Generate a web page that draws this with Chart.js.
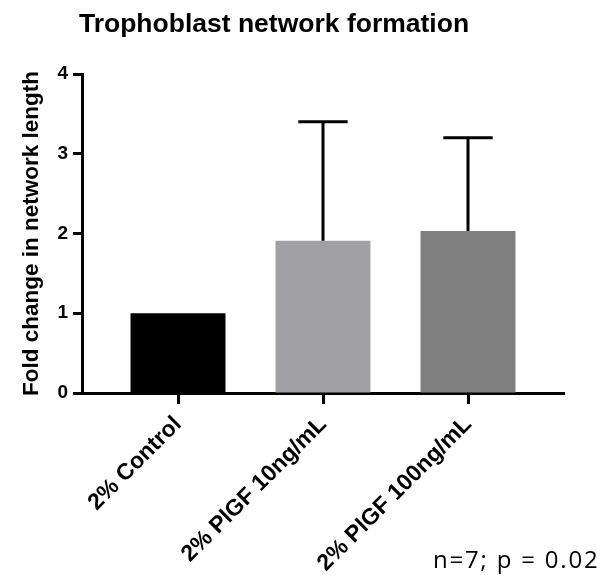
<!DOCTYPE html>
<html>
<head>
<meta charset="utf-8">
<script src="https://cdn.jsdelivr.net/npm/chart.js@4.4.1/dist/chart.umd.min.js"></script>
<style>
  html, body { margin: 0; padding: 0; background: #fff; }
  #wrap { width: 612px; height: 575px; }
</style>
</head>
<body>
<div id="wrap"><canvas id="c" width="612" height="575"></canvas></div>
<script>
const categories = ['2% Control', '2% PlGF 10ng/mL', '2% PlGF 100ng/mL'];
const meanValues = [1.0, 1.91, 2.03];
const errorUpper = [0, 1.49, 1.17];
const barColors = ['#000000', '#a1a1a5', '#808080'];
const yTicks = [0, 1, 2, 3, 4];
const titleText = 'Trophoblast network formation';
const yAxisTitle = 'Fold change in network length';
const noteText = 'n=7; p = 0.02';

const FONT = "'Liberation Sans', Arial, Helvetica, sans-serif";

const errorBarPlugin = {
  id: 'errorBars',
  afterDatasetsDraw(chart) {
    const ctx = chart.ctx;
    const meta = chart.getDatasetMeta(0);
    const y = chart.scales.y;
    ctx.save();
    ctx.strokeStyle = '#000';
    ctx.lineWidth = 3;
    ctx.lineCap = 'butt';
    meta.data.forEach((bar, i) => {
      if (!errorUpper[i]) return;
      const x = bar.x;
      const yTop = y.getPixelForValue(meanValues[i]);
      const yErr = y.getPixelForValue(meanValues[i] + errorUpper[i]);
      const half = bar.width * 0.26;
      ctx.beginPath();
      ctx.moveTo(x, yTop);
      ctx.lineTo(x, yErr);
      ctx.moveTo(x - half, yErr);
      ctx.lineTo(x + half, yErr);
      ctx.stroke();
    });
    ctx.restore();
  }
};

const xTickPlugin = {
  id: 'xTickMarks',
  afterDraw(chart) {
    const ctx = chart.ctx;
    const xs = chart.scales.x;
    const base = chart.chartArea.bottom;
    ctx.save();
    ctx.strokeStyle = '#000';
    ctx.lineWidth = 3;
    categories.forEach((c, i) => {
      const px = Math.round(xs.getPixelForValue(i)) + 0.5;
      ctx.beginPath();
      ctx.moveTo(px, base);
      ctx.lineTo(px, base + 11);
      ctx.stroke();
    });
    ctx.restore();
  }
};

const textPlugin = {
  id: 'texts',
  afterDraw(chart) {
    const ctx = chart.ctx;
    ctx.save();
    ctx.fillStyle = '#000';
    ctx.font = "bold 26.5px " + FONT;
    ctx.textAlign = 'center';
    ctx.textBaseline = 'alphabetic';
    ctx.fillText(titleText, 274, 32);
    ctx.font = "24px 'Open Sans', 'Noto Sans', sans-serif";
    ctx.textAlign = 'left';
    try { ctx.letterSpacing = '1.8px'; } catch (e) {}
    ctx.fillText(noteText, 433, 568);
    ctx.restore();
  }
};

new Chart(document.getElementById('c'), {
  type: 'bar',
  data: {
    datasets: [{
      data: meanValues.map((v, i) => ({ x: i, y: v })),
      backgroundColor: barColors,
      borderWidth: 0,
      barPercentage: 0.655,
      categoryPercentage: 1.0
    }]
  },
  options: {
    responsive: false,
    animation: false,
    events: [],
    layout: { padding: { top: 74, right: 48, left: 0, bottom: 0 } },
    plugins: {
      legend: { display: false },
      title: { display: false },
      tooltip: { enabled: false }
    },
    scales: {
      x: {
        type: 'linear',
        offset: false,
        min: -0.662,
        max: 2.662,
        afterBuildTicks(scale) {
          scale.ticks = categories.map((c, i) => ({ value: i }));
        },
        afterFit(scale) { scale.height = 182; },
        grid: {
          display: false,
          offset: false,
          drawOnChartArea: false,
          tickLength: 10
        },
        border: { display: true, color: '#000', width: 3 },
        ticks: {
          autoSkip: false,
          minRotation: 45,
          maxRotation: 45,
          padding: 8,
          color: '#000',
          font: { family: FONT, size: 23, weight: 'bold' },
          callback: (v) => categories[v]
        }
      },
      y: {
        min: 0,
        max: 4,
        afterBuildTicks(scale) {
          scale.ticks = yTicks.map(v => ({ value: v }));
        },
        afterFit(scale) { scale.width = 82; },
        grid: {
          drawOnChartArea: false,
          drawTicks: true,
          tickLength: 9,
          tickWidth: 3,
          tickColor: '#000'
        },
        border: { display: true, color: '#000', width: 3 },
        ticks: {
          padding: 5,
          color: '#000',
          font: { family: FONT, size: 19, weight: 'bold' }
        },
        title: {
          display: true,
          text: yAxisTitle,
          color: '#000',
          font: { family: FONT, size: 22.5, weight: 'bold' },
          padding: { top: 18, bottom: 0 }
        }
      }
    }
  },
  plugins: [errorBarPlugin, xTickPlugin, textPlugin]
});
</script>
</body>
</html>
